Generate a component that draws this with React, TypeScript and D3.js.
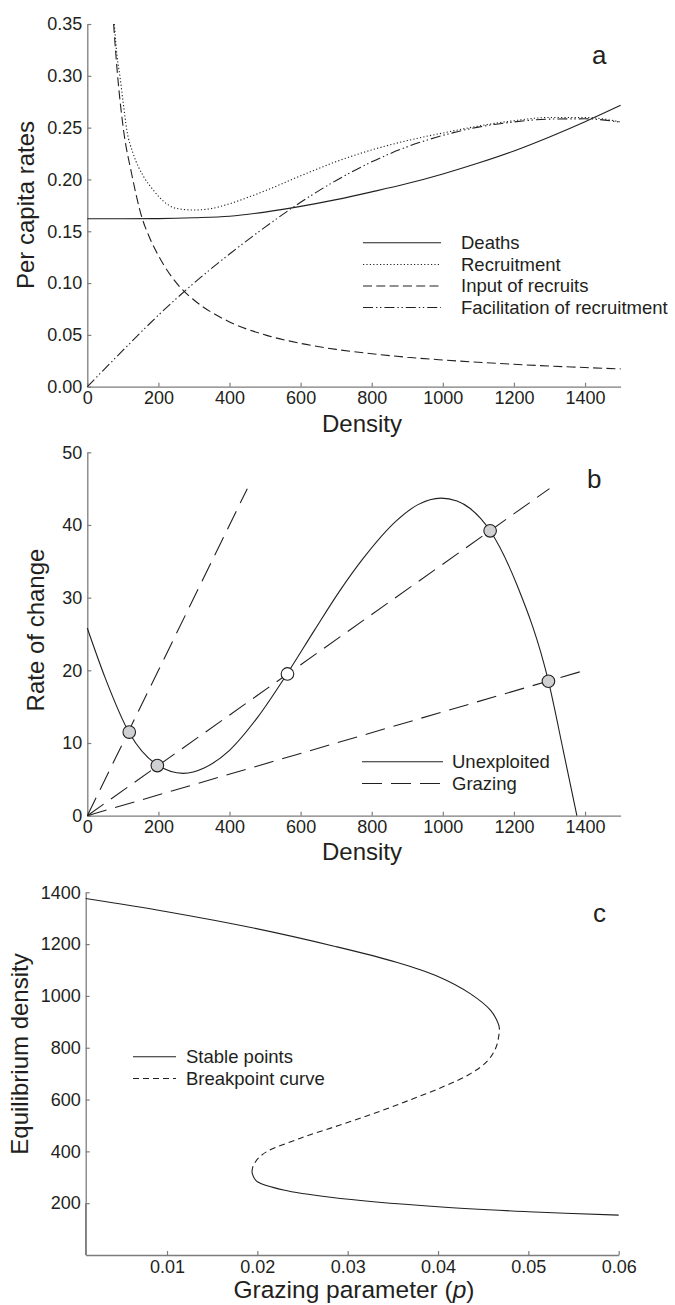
import React, { useEffect, useRef } from 'react';
import * as d3 from 'd3';

const W = 675;
const H = 1305;
const FONT = '"Liberation Sans", Arial, Helvetica, sans-serif';
const INK = '#231f20';
const AXIS = '#7d7d7d';

// ---- panel a: per capita rates vs density ----
const deathsDensity = [0, 100, 200, 300, 400, 500, 600, 700, 800, 900, 1000, 1100, 1200, 1300, 1400, 1500];
const deathsRate = [0.162, 0.162, 0.1622, 0.163, 0.1645, 0.1685, 0.174, 0.1805, 0.188, 0.196, 0.2053, 0.2158, 0.2275, 0.241, 0.2557, 0.2715];

const recruitDensity = [76, 84, 92, 101, 111, 129, 158, 185, 205, 251, 300, 350, 400, 450, 500, 600, 700, 800, 900, 1000, 1100, 1200, 1300, 1400, 1500];
const recruitRate = [0.35, 0.318, 0.299, 0.274, 0.248, 0.225, 0.203, 0.19, 0.182, 0.172, 0.1705, 0.172, 0.1765, 0.1825, 0.189, 0.2035, 0.2172, 0.2285, 0.2375, 0.2448, 0.2515, 0.2567, 0.2598, 0.2598, 0.2555];

const inputDensity = [74, 84, 101, 125, 153, 175, 200, 265, 300, 400, 500, 600, 700, 800, 900, 1000, 1200, 1400, 1500];
const inputRate = [0.35, 0.305, 0.25, 0.205, 0.164, 0.144, 0.1265, 0.0945, 0.0837, 0.0625, 0.05, 0.0418, 0.036, 0.0318, 0.0284, 0.0258, 0.0216, 0.0185, 0.0172];

const facilDensity = [0, 100, 200, 300, 400, 500, 600, 700, 800, 900, 1000, 1100, 1200, 1300, 1400, 1500];
const facilRate = [0, 0.035, 0.069, 0.1, 0.128, 0.154, 0.178, 0.199, 0.217, 0.2315, 0.2425, 0.2505, 0.2555, 0.2582, 0.2585, 0.2552];

const ticksA_x = [0, 200, 400, 600, 800, 1000, 1200, 1400];
const ticksA_y = [0, 0.05, 0.1, 0.15, 0.2, 0.25, 0.3, 0.35];

// ---- panel b: rate of change ----
const unexpDensity = [0, 50, 118, 197, 270, 330, 400, 480, 563, 640, 711, 776, 870, 930, 995, 1040, 1076, 1133, 1208, 1297, 1339, 1377];
const unexpRate = [25.8, 19.0, 11.4, 6.97, 5.83, 6.6, 9.0, 13.6, 19.6, 25.6, 31.0, 35.4, 40.6, 42.8, 43.7, 43.3, 42.3, 39.2, 31.8, 18.5, 8.9, 0];

const grazingEndDensity = [450, 1300, 1400];
const grazingEndRate = [45, 45, 20];

const eqDensity = [118, 197, 563, 1133, 1297];
const eqRate = [11.5, 6.9, 19.5, 39.2, 18.5];
const eqStable = [true, true, false, true, true];

const ticksB_x = [0, 200, 400, 600, 800, 1000, 1200, 1400];
const ticksB_y = [0, 10, 20, 30, 40, 50];

// ---- panel c: equilibrium density vs grazing ----
const upperN = [870, 890, 945, 1008, 1075, 1130, 1192, 1264, 1325, 1376];
const upperP = [0.0468, 0.0467, 0.0458, 0.0436, 0.04, 0.0354, 0.0285, 0.0193, 0.01, 0.001];

const breakN = [320, 340, 360, 380, 400, 450, 500, 550, 600, 650, 700, 750, 800, 840, 870];
const breakP = [0.0194, 0.0195, 0.0198, 0.0203, 0.0211, 0.0247, 0.029, 0.0332, 0.037, 0.0406, 0.0436, 0.0455, 0.0464, 0.0467, 0.0468];

const lowerN = [154, 167, 186, 223, 251, 283, 300, 320];
const lowerP = [0.06, 0.05, 0.04, 0.0281, 0.0229, 0.02, 0.0196, 0.0194];

const ticksC_x = [0.01, 0.02, 0.03, 0.04, 0.05, 0.06];
const ticksC_y = [200, 400, 600, 800, 1000, 1200, 1400];

const zip = (a: number[], b: number[]) => a.map((v, i) => [v, b[i]] as [number, number]);

export default function App() {
  const svgRef = useRef<SVGSVGElement>(null);

  useEffect(() => {
    if (!svgRef.current) return;
    const svg = d3.select(svgRef.current);
    svg.selectAll('*').remove();

    const styleAxis = (sel: any) => {
      sel.attr('font-family', FONT).attr('font-size', 18);
      sel.select('.domain').attr('stroke', AXIS).attr('stroke-width', 1.3);
      sel.selectAll('.tick line').attr('stroke', AXIS).attr('stroke-width', 1.2);
      sel.selectAll('.tick text').attr('fill', INK);
    };

    const curve = (pts: [number, number][], x: any, y: any, dash: string | null, c: any = d3.curveMonotoneX) =>
      svg.append('path')
        .attr('d', d3.line<[number, number]>().x(d => x(d[0])).y(d => y(d[1])).curve(c)(pts))
        .attr('fill', 'none')
        .attr('stroke', INK)
        .attr('stroke-width', 1.1)
        .attr('stroke-dasharray', dash);

    const text = (x: number, y: number, s: string, size: number, anchor = 'start') =>
      svg.append('text')
        .attr('x', x).attr('y', y)
        .attr('font-family', FONT).attr('font-size', size)
        .attr('fill', INK).attr('text-anchor', anchor)
        .text(s);

    const yTitle = (x: number, cy: number, s: string) =>
      svg.append('text')
        .attr('transform', `translate(${x},${cy}) rotate(-90)`)
        .attr('font-family', FONT).attr('font-size', 24)
        .attr('fill', INK).attr('text-anchor', 'middle')
        .text(s);

    const legend = (x0: number, x1: number, tx: number, rows: number[], items: { label: string; dash: string | null }[]) => {
      items.forEach((it, i) => {
        svg.append('line')
          .attr('x1', x0).attr('x2', x1).attr('y1', rows[i]).attr('y2', rows[i])
          .attr('stroke', INK).attr('stroke-width', 1.1)
          .attr('stroke-dasharray', it.dash);
        text(tx, rows[i], it.label, 18.5).attr('dy', '0.35em');
      });
    };

    // ===== Panel a =====
    const xA = d3.scaleLinear().domain([0, 1500]).range([87.3, 620.6]);
    const yA = d3.scaleLinear().domain([0, 0.35]).range([386.7, 24]);

    svg.append('g').attr('transform', `translate(0,${yA(0)})`)
      .call(d3.axisBottom(xA).tickValues(ticksA_x).tickSizeInner(-4).tickSizeOuter(0).tickPadding(5).tickFormat(d3.format('d')))
      .call(styleAxis);
    svg.append('g').attr('transform', `translate(${xA(0)},0)`)
      .call(d3.axisLeft(yA).tickValues(ticksA_y).tickSizeInner(-4).tickSizeOuter(0).tickPadding(5).tickFormat(d3.format('.2f')))
      .call(styleAxis);

    const dashA = '9,4.3';
    const dotA = '1.2,2.2';
    const dashDotA = '10,3,1.4,2.6,1.4,3';
    curve(zip(deathsDensity, deathsRate), xA, yA, null);
    curve(zip(recruitDensity, recruitRate), xA, yA, dotA);
    curve(zip(inputDensity, inputRate), xA, yA, dashA);
    curve(zip(facilDensity, facilRate), xA, yA, dashDotA);

    legend(363, 441, 461, [242.7, 264.5, 286, 307.5], [
      { label: 'Deaths', dash: null },
      { label: 'Recruitment', dash: dotA },
      { label: 'Input of recruits', dash: dashA },
      { label: 'Facilitation of recruitment', dash: dashDotA },
    ]);

    text(592, 63.5, 'a', 26);
    text(362, 431.7, 'Density', 24, 'middle');
    yTitle(34, 205, 'Per capita rates');

    // ===== Panel b =====
    const xB = d3.scaleLinear().domain([0, 1500]).range([87.3, 620.6]);
    const yB = d3.scaleLinear().domain([0, 50]).range([815.7, 452.3]);

    svg.append('g').attr('transform', `translate(0,${yB(0)})`)
      .call(d3.axisBottom(xB).tickValues(ticksB_x).tickSizeInner(-4).tickSizeOuter(0).tickPadding(5).tickFormat(d3.format('d')))
      .call(styleAxis);
    svg.append('g').attr('transform', `translate(${xB(0)},0)`)
      .call(d3.axisLeft(yB).tickValues(ticksB_y).tickSizeInner(-4).tickSizeOuter(0).tickPadding(5).tickFormat(d3.format('d')))
      .call(styleAxis);

    const dashB = '20,9';
    grazingEndDensity.forEach((d, i) => {
      curve([[0, 0], [d, grazingEndRate[i]]], xB, yB, dashB, d3.curveLinear);
    });
    curve(zip(unexpDensity, unexpRate), xB, yB, null, d3.curveMonotoneX);

    svg.append('g').selectAll('circle')
      .data(eqDensity.map((d, i) => ({ d, r: eqRate[i], stable: eqStable[i] })))
      .enter()
      .append('circle')
      .attr('cx', p => xB(p.d))
      .attr('cy', p => yB(p.r))
      .attr('r', 6.3)
      .attr('fill', p => (p.stable ? '#cfd0d2' : '#ffffff'))
      .attr('stroke', INK)
      .attr('stroke-width', 1.1);

    legend(362, 443, 452, [761.7, 783.5], [
      { label: 'Unexploited', dash: null },
      { label: 'Grazing', dash: dashB },
    ]);

    text(587, 488.3, 'b', 26);
    text(362, 860, 'Density', 24, 'middle');
    yTitle(44, 630, 'Rate of change');

    // ===== Panel c =====
    const xC = d3.scaleLinear().domain([0.001, 0.06]).range([85.7, 618.7]);
    const yC = d3.scaleLinear().domain([0, 1400]).range([1255, 892.3]);

    svg.append('g').attr('transform', `translate(0,${yC(0)})`)
      .call(d3.axisBottom(xC).tickValues(ticksC_x).tickSizeInner(-4).tickSizeOuter(0).tickPadding(5).tickFormat(d3.format('.2f')))
      .call(styleAxis);
    svg.append('g').attr('transform', `translate(${xC(0.001)},0)`)
      .call(d3.axisLeft(yC).tickValues(ticksC_y).tickSizeInner(-4).tickSizeOuter(0).tickPadding(5).tickFormat(d3.format('d')))
      .call(styleAxis);
    // axis line reaches down to the corner
    svg.append('line')
      .attr('x1', xC(0.001)).attr('x2', xC(0.001)).attr('y1', yC(200)).attr('y2', yC(0))
      .attr('stroke', AXIS).attr('stroke-width', 1.3);

    const dashC = '6,4';
    const curveC = (n: number[], p: number[], dash: string | null) =>
      curve(zip(p, n), xC, yC, dash, d3.curveCatmullRom);
    curveC(upperN, upperP, null);
    curveC(breakN, breakP, dashC);
    curveC(lowerN, lowerP, null);

    legend(133, 176, 186, [1056.7, 1078.5], [
      { label: 'Stable points', dash: null },
      { label: 'Breakpoint curve', dash: dashC },
    ]);

    text(593, 922, 'c', 26);
    const xt = text(354, 1298, 'Grazing parameter (', 24.5, 'middle');
    xt.append('tspan').attr('font-style', 'italic').text('p');
    xt.append('tspan').text(')');
    yTitle(28, 1054, 'Equilibrium density');
  }, []);

  return (
    <svg
      ref={svgRef}
      width={W}
      height={H}
      style={{ position: 'absolute', left: 0, top: 0, background: '#fff', display: 'block' }}
    />
  );
}
